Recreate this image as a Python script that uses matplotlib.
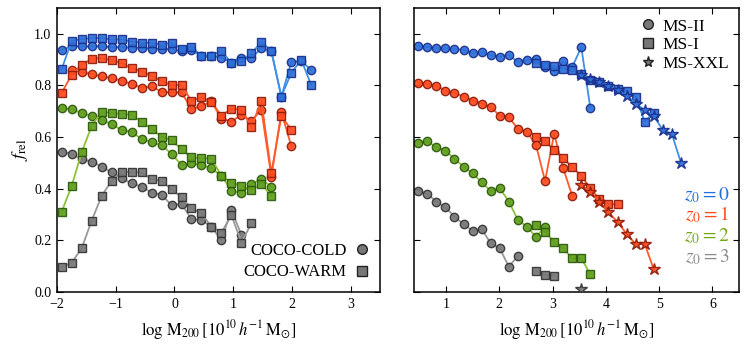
import matplotlib
matplotlib.use("Agg")
import matplotlib.pyplot as plt
from matplotlib.lines import Line2D

plt.rcParams['font.family'] = ['Liberation Serif', 'DejaVu Serif']
plt.rcParams['mathtext.fontset'] = 'stix'

# ---------------- data: left panel (COCO) ----------------
x_coco = [-1.92, -1.75, -1.58, -1.41, -1.24, -1.07, -0.90, -0.73, -0.56, -0.39,
          -0.22, -0.05, 0.12, 0.29, 0.46, 0.63, 0.80, 0.97, 1.14, 1.31,
          1.48, 1.65, 1.82, 1.99, 2.16, 2.33]

cold_z0 = [0.937, 0.951, 0.951, 0.951, 0.951, 0.948, 0.948, 0.947, 0.945, 0.943,
           0.941, 0.941, 0.932, 0.936, 0.915, 0.915, 0.908, 0.888, 0.908, 0.905,
           0.945, 0.932, 0.757, 0.892, 0.893, 0.860]
warm_z0 = [0.864, 0.972, 0.980, 0.983, 0.984, 0.978, 0.978, 0.970, 0.965, 0.965,
           0.958, 0.965, 0.942, 0.948, 0.916, 0.916, 0.934, 0.887, 0.896, 0.924,
           0.969, 0.934, 0.757, 0.849, 0.899, 0.801]
cold_z1_x = [-1.75, -1.58, -1.41, -1.24, -1.07, -0.90, -0.73, -0.56, -0.39,
             -0.22, -0.05, 0.12, 0.29, 0.46, 0.63, 0.80, 0.97, 1.14, 1.31,
             1.48, 1.65, 1.82, 1.99]
cold_z1 = [0.860, 0.851, 0.844, 0.835, 0.828, 0.819, 0.805, 0.792, 0.796,
           0.776, 0.773, 0.773, 0.709, 0.720, 0.738, 0.671, 0.660, 0.686, 0.663,
           0.706, 0.447, 0.697, 0.565]
warm_z1 = [0.771, 0.842, 0.880, 0.903, 0.906, 0.898, 0.886, 0.867, 0.854, 0.837,
           0.818, 0.800, 0.802, 0.740, 0.755, 0.736, 0.683, 0.710, 0.706, 0.640,
           0.740, 0.460, 0.682, 0.628]
cold_z2 = [0.712, 0.708, 0.693, 0.682, 0.668, 0.649, 0.628, 0.620, 0.593, 0.580,
           0.569, 0.535, 0.492, 0.499, 0.492, 0.479, 0.450, 0.393, 0.383, 0.419,
           0.437, 0.408]
warm_z2 = [0.311, 0.411, 0.541, 0.643, 0.699, 0.693, 0.690, 0.686, 0.660, 0.632,
           0.602, 0.587, 0.553, 0.522, 0.518, 0.517, 0.450, 0.424, 0.411, 0.395,
           0.419, 0.372]
cold_z3 = [0.544, 0.535, 0.514, 0.505, 0.486, 0.463, 0.441, 0.421, 0.408, 0.385,
           0.376, 0.337, 0.341, 0.282, 0.279, 0.251, 0.202, 0.318, 0.221]
warm_z3 = [0.096, 0.114, 0.169, 0.276, 0.372, 0.431, 0.466, 0.464, 0.463, 0.437,
           0.430, 0.398, 0.367, 0.324, 0.305, 0.253, 0.230, 0.298, 0.191, 0.266]

# ---------------- data: right panel (Millennium) ----------------
ms2_x = [0.48, 0.65, 0.82, 0.99, 1.16, 1.33, 1.50, 1.67, 1.84, 2.01,
         2.18, 2.35, 2.52, 2.69, 2.86, 3.03, 3.20, 3.37, 3.54, 3.71]
ms2_z0 = [0.953, 0.948, 0.945, 0.944, 0.941, 0.938, 0.925, 0.928, 0.917, 0.911,
          0.919, 0.890, 0.899, 0.903, 0.870, 0.855, 0.893, 0.872, 0.948, 0.712]
ms2_z1 = [0.811, 0.806, 0.798, 0.780, 0.770, 0.757, 0.741, 0.730, 0.716, 0.683,
          0.677, 0.632, 0.620, 0.569, 0.430, 0.612, 0.480, 0.372]
ms2_z2 = [0.579, 0.583, 0.561, 0.547, 0.516, 0.486, 0.460, 0.425, 0.391, 0.402,
          0.350, 0.279, 0.253, 0.214, 0.253]
ms2_z3 = [0.393, 0.380, 0.350, 0.328, 0.292, 0.262, 0.238, 0.243, 0.189, 0.169,
          0.098, 0.140]

ms1_x = [2.69, 2.86, 3.03, 3.20, 3.37, 3.54, 3.71, 3.88, 4.05, 4.22,
         4.39, 4.56, 4.73, 4.90]
ms1_z0 = [0.888, 0.878, 0.874, 0.865, 0.861, 0.845, 0.823, 0.815, 0.799, 0.786,
          0.777, 0.757, 0.660, 0.695]
ms1_z1 = [0.602, 0.583, 0.551, 0.518, 0.484, 0.450, 0.402, 0.360, 0.341, 0.339]
ms1_z2 = [0.260, 0.234, 0.193, 0.169, 0.130, 0.130, 0.069]
ms1_z3 = [0.081, 0.066, 0.063]

xxl_x = [3.54, 3.71, 3.88, 4.05, 4.22, 4.39, 4.56, 4.73, 4.90, 5.07, 5.24, 5.41]
xxl_z0 = [0.841, 0.824, 0.815, 0.798, 0.782, 0.760, 0.730, 0.705, 0.681, 0.628,
          0.612, 0.501]
xxl_z1 = [0.415, 0.388, 0.350, 0.308, 0.272, 0.225, 0.186, 0.186, 0.088]
xxl_z3 = [0.012]

redshift_labels = ['$z_0 = 0$', '$z_0 = 1$', '$z_0 = 2$', '$z_0 = 3$']

# ---------------- styles ----------------
face = ['#2d6fd8', '#ff4a1e', '#5f9e1c', '#777777']
edge = ['#1b2f8c', '#8e1c0c', '#2c5a0c', '#333333']
line = ['#3d90e6', '#ff5a2a', '#8cc23a', '#999999']
txtc = ['#1f72dd', '#ff4a1e', '#74a812', '#8a8a8a']

fig = plt.figure(figsize=(7.48, 3.46), dpi=100)
axL = fig.add_axes([57/748, 54/346, 323/748, 284/346])
axR = fig.add_axes([414/748, 54/346, 325/748, 284/346])


def series(ax, x, y, k, marker, ms=6.0, z=2):
    ax.plot(x[:len(y)], y, color=line[k], lw=1.3, zorder=z)
    ax.plot(x[:len(y)], y, ls='none', marker=marker, ms=ms, mfc=face[k],
            mec=edge[k], mew=1.0, alpha=0.92, zorder=z + 0.5)


# left panel
series(axL, x_coco, cold_z3, 3, 'o')
series(axL, x_coco, warm_z3, 3, 's', ms=5.6, z=3)
series(axL, x_coco, cold_z2, 2, 'o')
series(axL, x_coco, warm_z2, 2, 's', ms=5.6, z=3)
series(axL, cold_z1_x, cold_z1, 1, 'o')
series(axL, x_coco, warm_z1, 1, 's', ms=5.6, z=3)
series(axL, x_coco, cold_z0, 0, 'o')
series(axL, x_coco, warm_z0, 0, 's', ms=5.6, z=3)

# right panel
series(axR, ms2_x, ms2_z3, 3, 'o')
series(axR, ms1_x, ms1_z3, 3, 's', ms=5.6, z=3)
series(axR, xxl_x, xxl_z3, 3, '*', ms=9, z=4)
series(axR, ms2_x, ms2_z2, 2, 'o')
series(axR, ms1_x, ms1_z2, 2, 's', ms=5.6, z=3)
series(axR, ms2_x, ms2_z1, 1, 'o')
series(axR, ms1_x, ms1_z1, 1, 's', ms=5.6, z=3)
series(axR, xxl_x, xxl_z1, 1, '*', ms=9, z=4)
series(axR, ms2_x, ms2_z0, 0, 'o')
series(axR, ms1_x, ms1_z0, 0, 's', ms=5.6, z=3)
series(axR, xxl_x, xxl_z0, 0, '*', ms=9, z=4)

xlabel = r'$\log\,\mathrm{M}_{200}\,[10^{10}\,h^{-1}\,\mathrm{M}_{\odot}]$'
for ax in (axL, axR):
    ax.set_ylim(0, 1.1)
    ax.set_yticks([0.0, 0.2, 0.4, 0.6, 0.8, 1.0])
    ax.tick_params(direction='in', top=True, right=True, length=4, width=0.8,
                   labelsize=10, pad=4)
    for s in ax.spines.values():
        s.set_linewidth(1.1)
    ax.set_xlabel(xlabel, fontsize=12, labelpad=5)

axL.set_xlim(-2, 3.5)
axL.set_xticks([-2, -1, 0, 1, 2, 3])
axL.set_yticklabels(['0.0', '0.2', '0.4', '0.6', '0.8', '1.0'])
axL.set_ylabel(r'$f_{\rm rel}$', fontsize=13, labelpad=3)
axR.set_xlim(0.4, 6.5)
axR.set_xticks([1, 2, 3, 4, 5, 6])
axR.set_yticklabels([])

gkw = dict(ls='none', mfc='#777777', mec='#222222', mew=1.0)
hL = [Line2D([], [], marker='o', ms=7, **gkw),
      Line2D([], [], marker='s', ms=7, **gkw)]
axL.legend(hL, ['COCO-COLD', 'COCO-WARM'], loc='lower right', frameon=False,
           markerfirst=False, fontsize=12, handlelength=0.8, handletextpad=0.5,
           borderaxespad=0.3, labelspacing=0.3)

hR = [Line2D([], [], marker='o', ms=7, **gkw),
      Line2D([], [], marker='s', ms=7, **gkw),
      Line2D([], [], marker='*', ms=8, **gkw)]
axR.legend(hR, ['MS-II', 'MS-I', 'MS-XXL'], loc='upper right', frameon=False,
           fontsize=12.5, handlelength=0.8, handletextpad=0.4,
           borderaxespad=0.2, labelspacing=0.15)

ypos = [0.342, 0.271, 0.197, 0.124]
for k in range(4):
    axR.text(0.97, ypos[k], redshift_labels[k], transform=axR.transAxes,
             ha='right', va='center', fontsize=14, color=txtc[k])

fig.savefig('out.png', dpi=100)
